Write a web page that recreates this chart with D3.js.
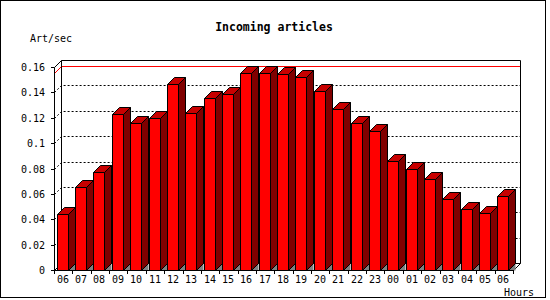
<!DOCTYPE html>
<meta charset="utf-8">
<style>

body {
  margin: 0;
  background: #fff;
}

svg {
  display: block;
  font-family: "DejaVu Sans Mono", monospace;
  font-size: 10px;
}

.title {
  font-size: 11.5px;
  font-weight: bold;
}

.grid path {
  stroke: #000;
  stroke-dasharray: 2,2;
  fill: none;
}

.bar path {
  stroke: #000;
  stroke-width: 1;
  stroke-linejoin: miter;
}

</style>
<svg width="550" height="300"></svg>
<script src="https://d3js.org/d3.v7.min.js"></script>
<script>

// hours of the day, starting at 06 and wrapping round to 06
var hours = ["06", "07", "08", "09", "10", "11", "12", "13", "14", "15", "16", "17",
             "18", "19", "20", "21", "22", "23", "00", "01", "02", "03", "04", "05", "06"];

// incoming articles per second
var artPerSec = [0.0441, 0.0652, 0.0775, 0.1227, 0.1156, 0.1195, 0.1466, 0.1235,
                 0.1353, 0.1385, 0.1551, 0.1550, 0.1542, 0.1519, 0.1408, 0.1266,
                 0.1156, 0.1096, 0.0859, 0.0794, 0.0715, 0.0557, 0.0478, 0.0447, 0.0581];

var yTicks = [0, 0.02, 0.04, 0.06, 0.08, 0.1, 0.12, 0.14, 0.16];
var yTickLabels = ["0", "0.02", "0.04", "0.06", "0.08", "0.1", "0.12", "0.14", "0.16"];

var svg = d3.select("svg"),
    depth = 7,                    // 3d offset of the back wall
    axisLeft = 54, axisRight = 513,
    axisBottom = 270, axisTop = 67;

var x = d3.scaleBand()
    .domain(d3.range(hours.length))
    .range([axisLeft, axisRight])
    .padding(0);

var y = d3.scaleLinear()
    .domain([0, 0.16])
    .range([axisBottom, axisTop]);

var step = x.step(),
    barOff = step * 0.15,
    barW = Math.round(step * 0.6);

function fx(i) { return Math.round(x(i) + barOff) + 0.5; }
function py(v) { return Math.round(y(v)) + 0.5; }

// outer frame
svg.append("rect")
    .attr("x", 0.5).attr("y", 0.5)
    .attr("width", 545).attr("height", 297)
    .attr("fill", "#fff")
    .attr("stroke", "#000");

svg.append("text")
    .attr("class", "title")
    .attr("x", 274).attr("y", 31)
    .attr("text-anchor", "middle")
    .text("Incoming articles");

svg.append("text")
    .attr("x", 30).attr("y", 42)
    .text("Art/sec");

svg.append("text")
    .attr("x", 534).attr("y", 296)
    .attr("text-anchor", "end")
    .text("Hours");

var yb = axisBottom + 0.5,
    yt = py(0.16),
    xl = axisLeft + 0.5,
    xr = axisRight + 0.5;

// dotted gridlines, running over the left wall and the back wall
svg.append("g")
    .attr("class", "grid")
  .selectAll("path")
  .data(yTicks.filter(function(d) { return d > 0 && d < 0.16; }))
  .enter().append("path")
    .attr("d", function(d) {
      var yy = py(d);
      return "M" + xl + "," + yy + "L" + (xl + depth) + "," + (yy - depth) +
             "L" + (xr + depth) + "," + (yy - depth);
    });

// line at the maximum value
var maxY = py(d3.max(artPerSec));
svg.append("path")
    .attr("fill", "none")
    .attr("stroke", "#f00")
    .attr("d", "M" + xl + "," + maxY + "L" + (xl + depth) + "," + (maxY - depth) +
               "L" + (xr + depth) + "," + (maxY - depth));

// walls and floor outline
svg.append("path")
    .attr("fill", "none")
    .attr("stroke", "#000")
    .attr("d",
      "M" + (xl + depth) + "," + (yb - depth) + "V" + (yt - depth) +
      "H" + (xr + depth) + "V" + (yb - depth) + "H" + (xl + depth) +
      "M" + xl + "," + yt + "L" + (xl + depth) + "," + (yt - depth) +
      "M" + xl + "," + yb + "L" + (xl + depth) + "," + (yb - depth) +
      "M" + xr + "," + yb + "L" + (xr + depth) + "," + (yb - depth));

// 3d bars
var bar = svg.append("g")
  .selectAll("g")
  .data(artPerSec)
  .enter().append("g")
    .attr("class", "bar");

bar.append("path")
    .attr("fill", "#808080")
    .style("stroke", "none")
    .attr("d", function(d, i) {
      var x1 = fx(i) + barW;
      return "M" + x1 + "," + yb + "L" + (x1 + depth) + "," + (yb - depth) +
             "L" + (x1 + depth) + "," + yb + "Z";
    });

bar.append("path")
    .attr("fill", "#f00")
    .attr("d", function(d, i) {
      var x0 = fx(i), yy = py(d);
      return "M" + x0 + "," + yb + "V" + yy + "H" + (x0 + barW) + "V" + yb + "Z";
    });

bar.append("path")
    .attr("fill", "#c80000")
    .attr("d", function(d, i) {
      var x0 = fx(i), x1 = x0 + barW, yy = py(d);
      return "M" + x0 + "," + yy + "L" + (x0 + depth) + "," + (yy - depth) +
             "H" + (x1 + depth) + "L" + x1 + "," + yy + "Z";
    });

bar.append("path")
    .attr("fill", "#800000")
    .attr("d", function(d, i) {
      var x1 = fx(i) + barW, yy = py(d);
      return "M" + x1 + "," + yy + "L" + (x1 + depth) + "," + (yy - depth) +
             "V" + (yb - depth) + "L" + x1 + "," + yb + "Z";
    });

// front axes
svg.append("path")
    .attr("fill", "none")
    .attr("stroke", "#000")
    .attr("d", "M" + xl + "," + yt + "V" + yb + "H" + xr);

// y ticks and labels
var yTick = svg.append("g")
  .selectAll("g")
  .data(yTicks)
  .enter().append("g")
    .attr("transform", function(d) { return "translate(0," + py(d) + ")"; });

yTick.append("line")
    .attr("x1", axisLeft - 3).attr("x2", xl)
    .attr("stroke", "#000");

yTick.append("text")
    .attr("x", 45)
    .attr("dy", "0.35em")
    .attr("text-anchor", "end")
    .text(function(d, i) { return yTickLabels[i]; });

// x ticks at category boundaries
svg.append("g")
  .selectAll("line")
  .data(d3.range(hours.length + 1))
  .enter().append("line")
    .attr("x1", function(i) { return Math.round(axisLeft + i * step) + 0.5; })
    .attr("x2", function(i) { return Math.round(axisLeft + i * step) + 0.5; })
    .attr("y1", axisBottom)
    .attr("y2", axisBottom + 4)
    .attr("stroke", "#000");

svg.append("g")
  .selectAll("text")
  .data(hours)
  .enter().append("text")
    .attr("x", function(d, i) { return fx(i) + barW / 2; })
    .attr("y", 283)
    .attr("text-anchor", "middle")
    .text(function(d) { return d; });

</script>
